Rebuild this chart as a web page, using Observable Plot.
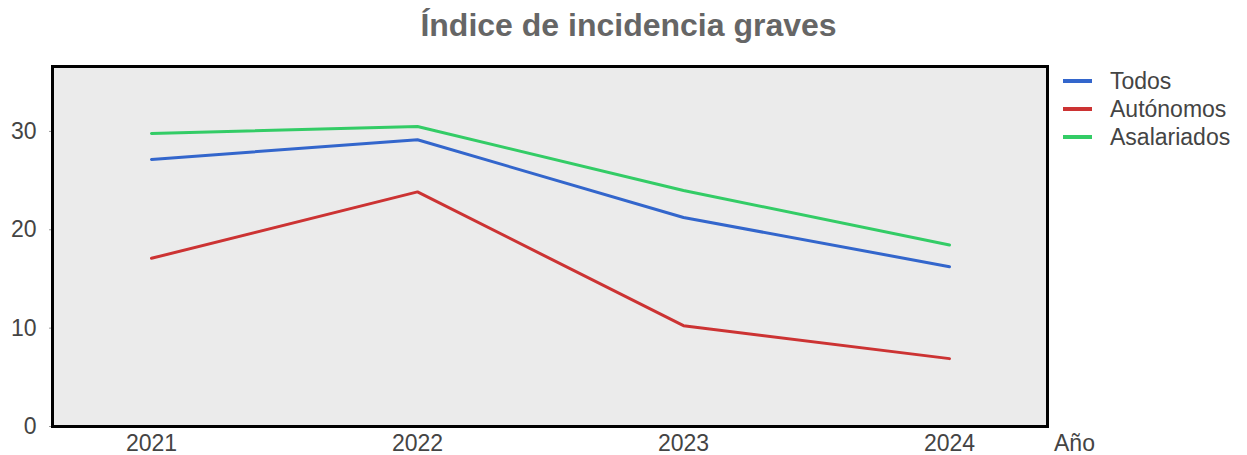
<!DOCTYPE html>
<html>
<head>
<meta charset="utf-8">
<script src="https://cdn.jsdelivr.net/npm/d3@7"></script>
<script src="https://cdn.jsdelivr.net/npm/@observablehq/plot@0.6"></script>
<style>
  html, body { margin: 0; padding: 0; background: #fff; }
  #wrap { position: relative; width: 1247px; height: 455px; font-family: "Liberation Sans", Arial, sans-serif; }
  #title { position: absolute; left: 0; top: 9px; width: 1247px; text-align: center; padding-left: 10px; box-sizing: border-box;
           font-size: 32px; line-height: 32px; font-weight: bold; color: #666; }
  #legend { position: absolute; left: 1063px; top: 67px; }
  .row { display: flex; align-items: center; height: 28px; font-size: 23px; color: #444; }
  .sw { width: 29px; height: 4px; margin-right: 18px; }
  #xlab { position: absolute; left: 1054px; top: 432px; font-size: 23px; line-height: 23px; color: #444; }
  #chart { position: absolute; left: 0; top: 0; }
</style>
</head>
<body>
<div id="wrap">
  <div id="chart"></div>
  <div id="title"></div>
  <div id="legend"></div>
  <div id="xlab"></div>
</div>
<script>
const titleText = "Índice de incidencia graves";
const xLabel = "Año";
const years = ["2021", "2022", "2023", "2024"];
const seriesNames = ["Todos", "Autónomos", "Asalariados"];
const seriesColors = ["#3366cc", "#cc3333", "#33cc66"];
const todos = [27.15, 29.15, 21.25, 16.25];
const autonomos = [17.1, 23.85, 10.25, 6.9];
const asalariados = [29.8, 30.5, 24.0, 18.45];
const yTicks = [0, 10, 20, 30];

const valuesBySeries = [todos, autonomos, asalariados];
const data = [];
seriesNames.forEach((s, i) => years.forEach((y, j) => data.push({series: s, year: y, value: valuesBySeries[i][j]})));

document.getElementById("title").textContent = titleText;
document.getElementById("xlab").textContent = xLabel;
const legend = document.getElementById("legend");
seriesNames.forEach((s, i) => {
  const row = document.createElement("div");
  row.className = "row";
  const sw = document.createElement("div");
  sw.className = "sw";
  sw.style.background = seriesColors[i];
  const t = document.createElement("span");
  t.textContent = s;
  row.appendChild(sw); row.appendChild(t);
  legend.appendChild(row);
});

const chart = Plot.plot({
  width: 1247,
  height: 455,
  marginTop: 66,
  marginBottom: 29,
  marginLeft: 52,
  marginRight: 200,
  style: { fontFamily: '"Liberation Sans", Arial, sans-serif', fontSize: "23px", color: "#444", background: "transparent" },
  x: { type: "point", domain: years, padding: 0.37, label: null },
  y: { domain: [0, 36.6], label: null },
  color: { domain: seriesNames, range: seriesColors },
  marks: [
    Plot.frame({ fill: "#ebebeb" }),
    Plot.axisY({ ticks: yTicks, tickSize: 3, tickPadding: 13, stroke: "#999", fill: "#444", label: null }),
    Plot.axisX({ tickSize: 0, tickPadding: 8, fill: "#444", label: null }),
    Plot.line(data, { x: "year", y: "value", z: "series", stroke: "series", strokeWidth: 3 }),
    Plot.frame({ stroke: "#000", strokeWidth: 3 })
  ]
});
document.getElementById("chart").appendChild(chart);
</script>
</body>
</html>
